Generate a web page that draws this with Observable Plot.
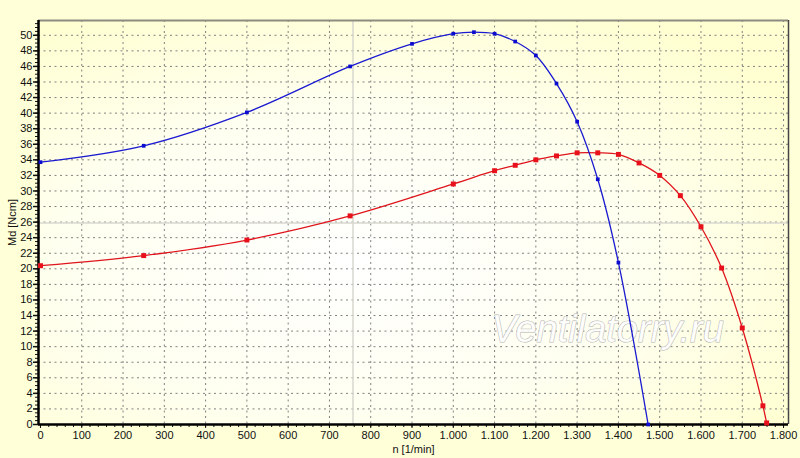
<!DOCTYPE html>
<html>
<head>
<meta charset="utf-8">
<script src="https://cdn.jsdelivr.net/npm/d3@7"></script>
<script src="https://cdn.jsdelivr.net/npm/@observablehq/plot@0.6"></script>
<style>
  html, body { margin: 0; padding: 0; background: #ffffd8; }
  #chart { width: 800px; height: 458px; }
  svg { font-family: "Liberation Sans", Arial, sans-serif; }
</style>
</head>
<body>
<div id="chart"></div>
<script>
// Blue curve
const nBlue  = [0, 250, 500, 750, 900, 1000, 1050, 1100, 1150, 1200, 1250, 1300, 1350, 1400, 1472];
const mdBlue = [33.7, 35.8, 40.1, 46.0, 48.9, 50.2, 50.4, 50.2, 49.2, 47.4, 43.8, 38.9, 31.5, 20.8, 0];
// Red curve
const nRed  = [0, 250, 500, 750, 1000, 1100, 1150, 1200, 1250, 1300, 1350, 1400, 1450, 1500, 1550, 1600, 1650, 1700, 1750, 1759];
const mdRed = [20.4, 21.7, 23.7, 26.8, 30.9, 32.6, 33.3, 34.0, 34.5, 34.9, 34.9, 34.7, 33.6, 32.0, 29.4, 25.4, 20.1, 12.4, 2.4, 0.2];
// Ticks
const xTicks = d3.range(0, 1801, 100);
const xMinor = d3.range(0, 1801, 20);
const yTicks = d3.range(0, 51, 2);
const yMinor = d3.range(0, 51.6, 0.5);
const cursor = {n: 757, md: 25.9};
const watermark = "Ventilatorry.ru";

const blue = nBlue.map((n, i) => ({n, md: mdBlue[i]}));
const red = nRed.map((n, i) => ({n, md: mdRed[i]}));

const fmtX = d => d3.format(",")(d).replace(/,/g, ".");

const background = (index, scales, values, dims) => {
  const g = d3.create("svg:g");
  const defs = g.append("defs");
  const rg = defs.append("radialGradient").attr("id", "bgGrad")
    .attr("cx", "42%").attr("cy", "60%").attr("r", "70%");
  rg.append("stop").attr("offset", "0%").attr("stop-color", "#ffffff");
  rg.append("stop").attr("offset", "55%").attr("stop-color", "#fffff0");
  rg.append("stop").attr("offset", "100%").attr("stop-color", "#ffffd2");
  g.append("rect")
    .attr("x", dims.marginLeft).attr("y", dims.marginTop)
    .attr("width", dims.width - dims.marginLeft - dims.marginRight)
    .attr("height", dims.height - dims.marginTop - dims.marginBottom)
    .attr("fill", "url(#bgGrad)");
  return g.node();
};

const chart = Plot.plot({
  width: 800,
  height: 458,
  marginLeft: 38,
  marginRight: 12,
  marginTop: 20,
  marginBottom: 34,
  style: {background: "#ffffd8", fontSize: "11px", color: "#111"},
  x: {domain: [-4.8, 1812], label: null},
  y: {domain: [0, 51.9], label: null},
  marks: [
    background,
    // grid
    Plot.ruleX(xTicks.filter(d => d > 0), {stroke: "#808080", strokeDasharray: "2,3.5", strokeWidth: 1}),
    Plot.ruleY(yTicks.filter(d => d > 0), {stroke: "#808080", strokeDasharray: "2,3.5", strokeWidth: 1}),
    // cursor lines
    Plot.ruleX([cursor.n], {stroke: "#d8d8d0", strokeWidth: 1.5}),
    Plot.ruleY([cursor.md], {stroke: "#d8d8d0", strokeWidth: 1.5}),
    // watermark
    Plot.text([watermark], {
      x: 1374, y: 12.1, text: d => d,
      fontSize: 38, fontStyle: "italic", fontFamily: "Liberation Sans, Arial, sans-serif",
      fill: "#ffffff", stroke: "#b4b4b0", strokeWidth: 1, fillOpacity: 0.9,
      letterSpacing: "2px"
    }),
    // frame borders
    Plot.ruleY([51.9], {stroke: "#8c8c80", strokeWidth: 2}),
    Plot.ruleX([1812], {stroke: "#444", strokeWidth: 1.5}),
    // axes
    Plot.axisX(xMinor, {tickSize: 3, text: null, stroke: "#111", strokeWidth: 1}),
    Plot.axisX(xTicks, {tickSize: 4, tickPadding: 3, tickFormat: fmtX, stroke: "#111", fill: "#111",
      label: "n [1/min]", labelAnchor: "center", labelArrow: "none", labelOffset: 28, fontSize: 11}),
    Plot.axisY(yMinor, {tickSize: 3, text: null, stroke: "#111", strokeWidth: 1}),
    Plot.axisY(yTicks, {tickSize: 5, tickPadding: 1, stroke: "#111", fill: "#111", strokeWidth: 1.5,
      label: "Md [Ncm]", labelAnchor: "center", labelArrow: "none", labelOffset: 30, fontSize: 11}),
    Plot.ruleX([-4.8], {stroke: "#000", strokeWidth: 2.5}),
    Plot.ruleY([0], {stroke: "#000", strokeWidth: 2.5}),
    // curves
    Plot.line(red, {x: "n", y: "md", stroke: "#e0141c", strokeWidth: 1.3, curve: "catmull-rom"}),
    Plot.line(blue, {x: "n", y: "md", stroke: "#1a1ad0", strokeWidth: 1.3, curve: "catmull-rom"}),
    Plot.dot(red, {x: "n", y: "md", symbol: "square", r: 2.8, fill: "#e8101a", stroke: "none"}),
    Plot.dot(blue, {x: "n", y: "md", symbol: "square", r: 2.1, fill: "#0c0cd0", stroke: "none"})
  ]
});
document.getElementById("chart").appendChild(chart);
</script>
</body>
</html>
